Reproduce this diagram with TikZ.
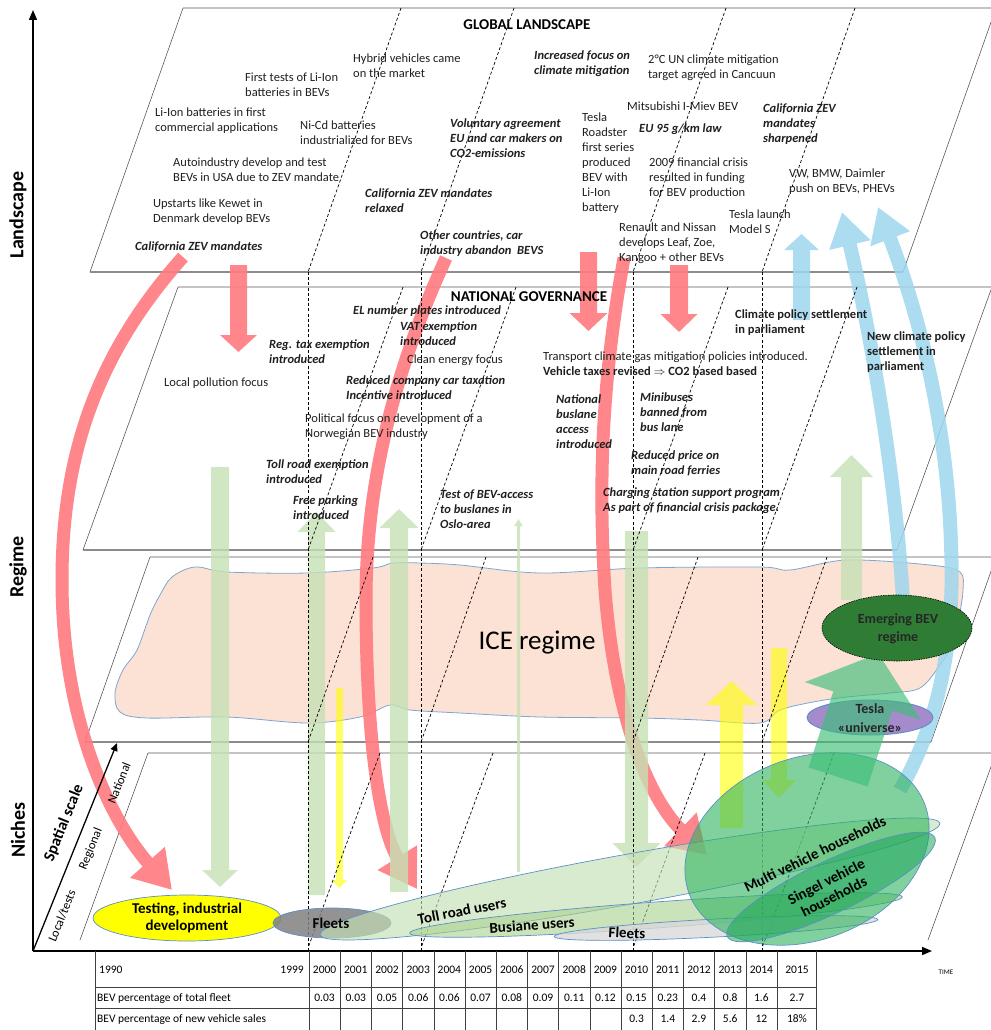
\documentclass[tikz,border=0pt]{standalone}
\usepackage{fontspec}
\setmainfont{Carlito}
\usetikzlibrary{arrows.meta}

\definecolor{RedArrow}{HTML}{FF7C80}
\definecolor{BlueArrow}{HTML}{9DD6EC}
\definecolor{GreenArrow}{HTML}{C5E0B4}
\definecolor{YellowArrow}{HTML}{FFFF00}
\definecolor{IceFill}{HTML}{FBE2D5}
\definecolor{IceEdge}{HTML}{7EA6D3}
\definecolor{EllEdge}{HTML}{5B8FC9}
\definecolor{BevGreen}{HTML}{2F7D34}
\definecolor{TeslaPurple}{HTML}{A58BCB}
\definecolor{HouseGreen}{HTML}{2DB35E}
\definecolor{SingelGreen}{HTML}{1FA65A}
\definecolor{TollGreen}{HTML}{C5E0B4}
\definecolor{BusGreen}{HTML}{A9D18E}
\definecolor{MintGreen}{HTML}{3DBE78}

\begin{document}
\begin{tikzpicture}[x=1pt, y=-1pt, >=Stealth,
    layer/.style={draw=black!65, line width=0.6pt},
    layerbase/.style={draw=black!45, line width=1.6pt},
    yearline/.style={black, line width=0.7pt, dash pattern=on 3pt off 2.2pt},
    txt/.style={anchor=west, align=left, inner sep=0pt, text=black!88, font=\fontsize{12.5}{15}\selectfont},
    txtbi/.style={txt, font=\fontsize{12.5}{15}\selectfont\bfseries\itshape},
    txtb/.style={txt, font=\fontsize{12.5}{15}\selectfont\bfseries},
    headtxt/.style={inner sep=0pt, font=\fontsize{15}{18}\selectfont\bfseries},
    leveltxt/.style={rotate=90, inner sep=0pt, font=\fontsize{20}{24}\selectfont\bfseries},
    scaletxt/.style={rotate=68, inner sep=0pt, font=\fontsize{12.5}{15}\selectfont},
    nichetxt/.style={inner sep=0pt, align=center, font=\fontsize{15}{17}\selectfont\bfseries},
    tabtxt/.style={inner sep=0pt, font=\fontsize{11.5}{13}\selectfont},
    tabline/.style={draw=black!75, line width=0.6pt},
    ellout/.style={draw=EllEdge, line width=0.7pt},
    redcurve/.style={draw=RedArrow, line width=13pt, -{Triangle[width=44pt,length=37pt]}},
    bluecurve/.style={draw=BlueArrow, line width=14pt, -{Triangle[width=40pt,length=34pt]}},
    redblock/.style={draw=RedArrow},
    blueblock/.style={draw=BlueArrow},
    greenblock/.style={draw=GreenArrow},
    yellowblock/.style={draw=YellowArrow}]

    \useasboundingbox (0,0) rectangle (990,1030);

    % 定义坐标
    \coordinate (Origin) at (33,951);
    \coordinate (LevelTop) at (33,10);
    \coordinate (TimeEnd) at (932,951);
    \coordinate (ScaleEnd) at (117,743);

    % 红色弯箭头
    \coordinate (RedAStart) at (183,257);
    \coordinate (RedAMid) at (62,580);
    \coordinate (RedATip) at (172,890);
    \coordinate (RedBStart) at (446,258);
    \coordinate (RedBMid) at (366,600);
    \coordinate (RedBTip) at (417,889);
    \coordinate (RedCStart) at (624,258);
    \coordinate (RedCMid) at (605,590);
    \coordinate (RedCTip) at (707,855);

    % 蓝色弯箭头
    \coordinate (BlueAStart) at (903,600);
    \coordinate (BlueATip) at (842,212);
    \coordinate (BlueBStart) at (900,790);
    \coordinate (BlueBMid) at (951,545);
    \coordinate (BlueBTip) at (878,207);

    % 块状箭头
    \coordinate (RedDownA) at (238.5,265);   \coordinate (RedDownATip) at (238.5,352);
    \coordinate (RedDownB) at (588.5,252);   \coordinate (RedDownBTip) at (588.5,331);
    \coordinate (RedDownC) at (679,265);     \coordinate (RedDownCTip) at (679,332);
    \coordinate (BlueUp) at (801.5,320);     \coordinate (BlueUpTip) at (801.5,234);
    \coordinate (GreenDownA) at (220,467);   \coordinate (GreenDownATip) at (220,887);
    \coordinate (GreenUpA) at (316.5,895);   \coordinate (GreenUpATip) at (316.5,512);
    \coordinate (GreenUpB) at (399,892);     \coordinate (GreenUpBTip) at (399,509);
    \coordinate (GreenThin) at (518.5,872);  \coordinate (GreenThinTip) at (518.5,519);
    \coordinate (GreenDownB) at (636.5,531); \coordinate (GreenDownBTip) at (636.5,867);
    \coordinate (GreenUpC) at (851.5,600);   \coordinate (GreenUpCTip) at (851.5,455);
    \coordinate (YellowDownA) at (339.5,688); \coordinate (YellowDownATip) at (339.5,888);
    \coordinate (YellowUp) at (731.5,828);   \coordinate (YellowUpTip) at (731.5,681);
    \coordinate (YellowDownB) at (779,648);  \coordinate (YellowDownBTip) at (779,798);

    % 绘制四个层面
    \draw[layer] (183,8) -- (996,8) (996,8) -- (903,272) (90,272) -- (183,8);
    \draw[layerbase] (90,272) -- (903,272);
    \draw[layer] (178,287) -- (992,287) (992,287) -- (897,550) (83,550) -- (178,287);
    \draw[layerbase] (83,550) -- (897,550);
    \draw[layer] (150,557) -- (996,557) (996,557) -- (931,742) (85,742) -- (150,557);
    \draw[layerbase] (85,742) -- (931,742);
    \draw[layer] (148,753) -- (996,753) (996,753) -- (928,940) (80,940) -- (148,753);

    % ICE 区域
    \draw[fill=IceFill, draw=IceEdge, line width=0.8pt] plot[smooth cycle, tension=0.55] coordinates {
        (195,567) (227,572) (307,573) (373,568) (393,563) (420,563) (460,565) (540,573)
        (640,568) (760,567) (790,570) (847,560) (930,565) (960,572) (963,590) (960,612)
        (955,640) (940,665) (920,688) (890,693) (847,697) (813,702) (780,710) (760,723)
        (700,720) (640,718) (540,717) (460,713) (410,710) (390,705) (360,717) (307,723)
        (227,717) (147,718) (120,712) (115,693) (123,670) (137,650) (150,615) (160,595) (172,577)};

    % 红色箭头
    \begin{scope}[transparency group, opacity=0.92]
        \draw[redcurve] (RedAStart) .. controls (100,350) and (62,450) .. (RedAMid)
            .. controls (62,720) and (110,820) .. (RedATip);
        \draw[redcurve] (RedBStart) .. controls (395,370) and (366,480) .. (RedBMid)
            .. controls (366,740) and (380,830) .. (RedBTip);
        \draw[redcurve] (RedCStart) .. controls (602,380) and (598,480) .. (RedCMid)
            .. controls (615,720) and (650,800) .. (RedCTip);
        \draw[redblock, line width=17pt, -{Triangle[width=36pt,length=17pt]}] (RedDownA) -- (RedDownATip);
        \draw[redblock, line width=17pt, -{Triangle[width=37pt,length=18pt]}] (RedDownB) -- (RedDownBTip);
        \draw[redblock, line width=18pt, -{Triangle[width=36pt,length=18pt]}] (RedDownC) -- (RedDownCTip);
    \end{scope}

    % 蓝色箭头
    \begin{scope}[transparency group, opacity=0.85]
        \draw[bluecurve] (BlueAStart) .. controls (895,470) and (870,330) .. (BlueATip);
        \draw[bluecurve] (BlueBStart) .. controls (940,720) and (955,640) .. (BlueBMid)
            .. controls (948,440) and (925,330) .. (BlueBTip);
        \draw[blueblock, line width=17pt, -{Triangle[width=34pt,length=16pt]}] (BlueUp) -- (BlueUpTip);
    \end{scope}

    % 绿色箭头
    \begin{scope}[transparency group, opacity=0.8]
        \draw[greenblock, line width=18pt, -{Triangle[width=35pt,length=17pt]}] (GreenDownA) -- (GreenDownATip);
        \draw[greenblock, line width=17pt, -{Triangle[width=37pt,length=20pt]}] (GreenUpA) -- (GreenUpATip);
        \draw[greenblock, line width=18pt, -{Triangle[width=38pt,length=19pt]}] (GreenUpB) -- (GreenUpBTip);
        \draw[greenblock, line width=3pt, -{Triangle[width=8pt,length=7pt]}] (GreenThin) -- (GreenThinTip);
        \draw[greenblock, line width=23pt, -{Triangle[width=47pt,length=24pt]}] (GreenDownB) -- (GreenDownBTip);
        \draw[greenblock, line width=21pt, -{Triangle[width=42pt,length=22pt]}] (GreenUpC) -- (GreenUpCTip);
    \end{scope}

    % 黄色箭头
    \begin{scope}[transparency group, opacity=0.6]
        \draw[yellowblock, line width=7pt, -{Triangle[width=15pt,length=8pt]}] (YellowDownA) -- (YellowDownATip);
        \draw[yellowblock, line width=23pt, -{Triangle[width=50pt,length=24pt]}] (YellowUp) -- (YellowUpTip);
        \draw[yellowblock, line width=16pt, -{Triangle[width=33pt,length=18pt]}] (YellowDownB) -- (YellowDownBTip);
    \end{scope}

    % 年份虚线
    \foreach \yr in {308,421,633,762}{
        \draw[yearline] (\yr+93,8) -- (\yr,272);
        \draw[yearline] (\yr+95,287) -- (\yr,550);
        \draw[yearline] (\yr+65,557) -- (\yr,742);
        \draw[yearline] (\yr+72,753) -- (\yr,948);
        \draw[yearline] (\yr,272) -- (\yr,950);
    }

    % 利基椭圆
    \draw[ellout, fill=YellowArrow] (187,918) ellipse [x radius=94, y radius=23];
    \draw[ellout, fill=black!50, fill opacity=0.85] (332,923) ellipse [x radius=59, y radius=15];
    \draw[ellout, fill=TollGreen, fill opacity=0.65, rotate around={10.2:(630,879)}] (630,879) ellipse [x radius=315, y radius=25];
    \draw[ellout, fill=BusGreen, fill opacity=0.6, rotate around={4.2:(656,915)}] (656,915) ellipse [x radius=247, y radius=13];
    \draw[ellout, fill=black!15, fill opacity=0.8, rotate around={3:(716,928)}] (716,928) ellipse [x radius=162, y radius=9];
    \draw[ellout, fill=HouseGreen, fill opacity=0.6, rotate around={21:(807,849)}] (807,849) ellipse [x radius=126, y radius=91];
    \draw[ellout, fill=SingelGreen, fill opacity=0.55, rotate around={25.5:(831,887)}] (831,887) ellipse [x radius=115, y radius=26];

    % Tesla 椭圆与绿色大箭头
    \draw[draw=EllEdge, line width=0.9pt, fill=TeslaPurple] (870,717.5) ellipse [x radius=63, y radius=17.5];
    \fill[MintGreen, opacity=0.65] (808.5,767.4) -- (867.5,786.6) -- (892.3,710.6) -- (920.8,719.9)
        -- (878.3,653.5) -- (804.8,682.1) -- (833.3,691.4) -- cycle;
    \draw[fill=BevGreen, draw=black, line width=0.6pt, dash pattern=on 1.5pt off 1pt] (897,628) ellipse [x radius=75, y radius=33];

    % 轴标签
    \node[leveltxt] (Landscape) at (18,215) {Landscape};
    \node[leveltxt] (Regime) at (18,567) {Regime};
    \node[leveltxt] (Niches) at (18,830) {Niches};
    \node[scaletxt, font=\fontsize{16}{18}\selectfont\bfseries] (SpatialScale) at (64,823) {Spatial scale};
    \node[scaletxt] (National) at (119,783) {National};
    \node[scaletxt] (Regional) at (91,849) {Regional};
    \node[scaletxt] (LocalTests) at (62,916) {Local/tests};

    % 全球层面文字
    \node[headtxt] (GlobalLandscape) at (527,25) {GLOBAL LANDSCAPE};
    \node[txt] (Hybrid) at (353,65.5) {Hybrid vehicles came\\on the market};
    \node[txt] (FirstTests) at (245,85) {First tests of Li-Ion\\batteries in BEVs};
    \node[txt] (LiIon) at (155,121) {Li-Ion batteries in first\\commercial applications};
    \node[txt] (NiCd) at (300,133) {Ni-Cd batteries\\industrialized for BEVs};
    \node[txt] (AutoIndustry) at (173,169.5) {Autoindustry develop and test\\BEVs in USA due to ZEV mandate};
    \node[txt] (Upstarts) at (153,211.5) {Upstarts like Kewet in\\Denmark develop BEVs};
    \node[txtbi] (CalZEV) at (135,247) {California ZEV mandates};
    \node[txtbi] (CalRelaxed) at (365,200.5) {California ZEV mandates\\relaxed};
    \node[txtbi] (OtherCountries) at (420,244) {Other countries, car\\industry abandon\ \ BEVS};
    \node[txtbi] (IncreasedFocus) at (534,63.5) {Increased focus on\\climate mitigation};
    \node[txt] (Cancun) at (648,67.5) {2°C UN climate mitigation\\target agreed in Cancuun};
    \node[txtbi] (Voluntary) at (450,138) {Voluntary agreement\\EU and car makers on\\CO2-emissions};
    \node[txt] (Roadster) at (582,163) {Tesla\\Roadster\\first series\\produced\\BEV with\\Li-Ion\\battery};
    \node[txt] (Mitsubishi) at (627,106) {Mitsubishi I-Miev BEV};
    \node[txtbi] (EULaw) at (639,129) {EU 95 g/km law};
    \node[txt] (Crisis) at (649,178) {2009 financial crisis\\resulted in funding\\for BEV production};
    \node[txtbi] (CalSharpened) at (763,124) {California ZEV\\mandates\\sharpened};
    \node[txt] (VWBMW) at (789,181.5) {VW, BMW, Daimler\\push on BEVs, PHEVs};
    \node[txt] (ModelS) at (729,221.5) {Tesla launch\\Model S};
    \node[txt] (Renault) at (619,243) {Renault and Nissan\\develops Leaf, Zoe,\\Kangoo + other BEVs};

    % 国家层面文字
    \node[headtxt] (NationalGov) at (529,297) {NATIONAL GOVERNANCE};
    \node[txtbi] (ELPlates) at (353,311) {EL number plates introduced};
    \node[txtbi] (VAT) at (400,333.5) {VAT exemption\\introduced};
    \node[txtbi] (RegTax) at (269,351.5) {Reg. tax exemption\\introduced};
    \node[txt] (CleanEnergy) at (407,360) {Clean energy focus};
    \node[txt] (LocalPollution) at (164,383) {Local pollution focus};
    \node[txtbi] (CompanyCar) at (346,387.5) {Reduced company car taxation\\Incentive introduced};
    \node[txt] (PoliticalFocus) at (305,426.5) {Political focus on development of a\\Norwegian BEV industry};
    \node[txtbi] (TollExempt) at (266,471.5) {Toll road exemption\\introduced};
    \node[txtbi] (FreeParking) at (293,507.5) {Free parking\\introduced};
    \node[txtbi] (TestBuslane) at (440,509) {Test of BEV-access\\to buslanes in\\Oslo-area};
    \node[txtb] (ClimateSettle) at (735,322.5) {Climate policy settlement\\in parliament};
    \node[txtb] (NewClimate) at (867,352) {New climate policy\\settlement in\\parliament};
    \node[txt] (Transport) at (543,363.5) {Transport climate gas mitigation policies introduced.\\\textbf{Vehicle taxes revised $\Rightarrow$ CO2 based based}};
    \node[txtbi] (NatBuslane) at (556,422) {National\\buslane\\access\\introduced};
    \node[txtbi] (Minibuses) at (640,412) {Minibuses\\banned from\\bus lane};
    \node[txtbi] (Ferries) at (631,463.5) {Reduced price on\\main road ferries};
    \node[txtbi] (Charging) at (603,500.5) {Charging station support program\\As part of financial crisis package.};

    % 体制与利基文字
    \node[inner sep=0pt, font=\fontsize{27}{30}\selectfont] (ICE) at (537,643) {ICE regime};
    \node[nichetxt, text=black!85, font=\fontsize{14}{18}\selectfont\bfseries] (Emerging) at (898,629) {Emerging BEV\\regime};
    \node[nichetxt, text=black!85, font=\fontsize{14}{19}\selectfont\bfseries] (TeslaUniverse) at (870,718.5) {Tesla\\«universe»};
    \node[nichetxt] (Testing) at (187,918) {Testing, industrial\\development};
    \node[nichetxt] (FleetsA) at (331,923) {Fleets};
    \node[nichetxt, rotate=11] (TollUsers) at (462,911) {Toll road users};
    \node[nichetxt, rotate=4] (BuslaneUsers) at (532,925) {Busiane users};
    \node[nichetxt, rotate=-3] (FleetsB) at (627,933) {Fleets};
    \node[nichetxt, rotate=26] (MultiHouse) at (815,854) {Multi vehicle households};
    \node[nichetxt, rotate=27] (SingelHouse) at (830,889) {Singel vehicle\\households};

    % 坐标轴
    \draw[line width=1.6pt, -{Triangle[width=8pt,length=10pt]}] (Origin) -- (LevelTop);
    \draw[line width=1.6pt, -{Triangle[width=8pt,length=10pt]}] (Origin) -- (TimeEnd);
    \draw[line width=1.3pt, -{Triangle[width=7pt,length=8pt]}] (Origin) -- (ScaleEnd);
    \node[inner sep=0pt, font=\fontsize{7}{8}\selectfont] (TimeTxt) at (946,972) {TIME};

    % 表格
    \foreach \k in {0,...,15}
        \draw[tabline] ({309+31.2*\k},951) -- ({309+31.2*\k},1030);
    \draw[tabline] (95,951) -- (95,1030);
    \draw[tabline] (816,951) -- (816,1030);
    \draw[tabline] (95,987) -- (816,987);
    \draw[tabline] (95,1008) -- (816,1008);
    \node[tabtxt, anchor=west] (Yr1990) at (99,970) {1990};
    \node[tabtxt, anchor=east] (Yr1999) at (304,970) {1999};
    \foreach \yr [count=\i from 0] in {2000,...,2014}
        \node[tabtxt] (Yr\yr) at ({324.6+31.2*\i},970) {\yr};
    \node[tabtxt] (Yr2015) at (797,970) {2015};
    \node[tabtxt, anchor=west] (FleetRow) at (97,998) {BEV percentage of total fleet};
    \foreach \v [count=\i from 0] in {0.03,0.03,0.05,0.06,0.06,0.07,0.08,0.09,0.11,0.12,0.15,0.23,0.4,0.8,1.6}
        \node[tabtxt] (Fleet\i) at ({324.6+31.2*\i},998) {\v};
    \node[tabtxt] (Fleet15) at (797,998) {2.7};
    \node[tabtxt, anchor=west] (SalesRow) at (97,1019) {BEV percentage of new vehicle sales};
    \foreach \v [count=\i from 10] in {0.3,1.4,2.9,5.6,12}
        \node[tabtxt] (Sales\i) at ({324.6+31.2*\i},1019) {\v};
    \node[tabtxt] (Sales15) at (797,1019) {18\%};

\end{tikzpicture}
\end{document}
